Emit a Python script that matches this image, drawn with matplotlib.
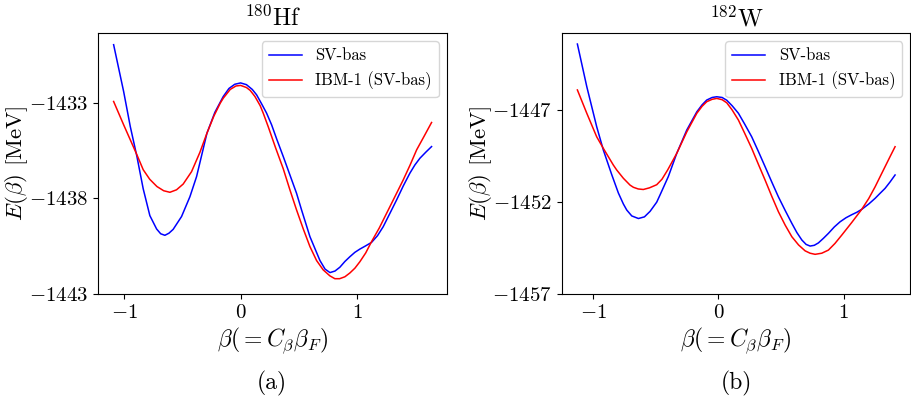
import numpy as np
import matplotlib
matplotlib.use("Agg")
import matplotlib.pyplot as plt

plt.rcParams['font.family'] = 'serif'
plt.rcParams['font.serif'] = ['cmr10']
plt.rcParams['mathtext.fontset'] = 'cm'
plt.rcParams['axes.formatter.use_mathtext'] = True
plt.rcParams['axes.unicode_minus'] = True

# 180Hf (panel a)
hf_beta_sv = [-1.090, -1.004, -0.947, -0.890, -0.836, -0.779, -0.721, -0.686, -0.650, -0.615,
              -0.579, -0.507, -0.435, -0.378, -0.289, -0.221, -0.149, -0.100, -0.050, 0.000,
              0.050, 0.100, 0.137, 0.180, 0.223, 0.266, 0.310, 0.366, 0.480, 0.523,
              0.595, 0.681, 0.725, 0.767, 0.810, 0.852, 0.895, 0.938, 0.981, 1.024,
              1.074, 1.124, 1.175, 1.224, 1.280, 1.339, 1.396, 1.453, 1.496, 1.539,
              1.590, 1.639]
hf_e_sv = [-1429.96, -1432.41, -1434.24, -1435.81, -1437.50, -1438.90, -1439.60, -1439.85, -1439.93, -1439.82,
           -1439.62, -1438.95, -1437.91, -1436.86, -1434.59, -1433.50, -1432.67, -1432.25, -1432.03, -1431.96,
           -1432.05, -1432.30, -1432.58, -1433.05, -1433.54, -1434.15, -1434.90, -1435.81, -1437.73, -1438.60,
           -1440.00, -1441.25, -1441.70, -1441.88, -1441.80, -1441.60, -1441.30, -1441.05, -1440.82, -1440.65,
           -1440.48, -1440.30, -1439.95, -1439.48, -1438.80, -1438.08, -1437.35, -1436.68, -1436.25, -1435.90,
           -1435.58, -1435.29]
hf_beta_ibm = [-1.090, -1.004, -0.890, -0.836, -0.780, -0.718, -0.660, -0.607, -0.550, -0.493,
               -0.421, -0.350, -0.289, -0.230, -0.175, -0.149, -0.089, -0.040, 0.000, 0.050,
               0.082, 0.123, 0.168, 0.194, 0.237, 0.300, 0.366, 0.423, 0.480, 0.538,
               0.595, 0.652, 0.709, 0.766, 0.809, 0.850, 0.895, 0.938, 0.981, 1.024,
               1.074, 1.124, 1.190, 1.253, 1.325, 1.396, 1.455, 1.511, 1.575, 1.639]
hf_e_ibm = [-1432.93, -1434.15, -1435.72, -1436.50, -1437.00, -1437.38, -1437.60, -1437.68, -1437.55, -1437.25,
            -1436.60, -1435.60, -1434.59, -1433.70, -1433.02, -1432.76, -1432.30, -1432.12, -1432.09, -1432.20,
            -1432.35, -1432.67, -1433.15, -1433.54, -1434.25, -1435.35, -1436.45, -1437.55, -1438.60, -1439.60,
            -1440.52, -1441.25, -1441.74, -1442.05, -1442.20, -1442.20, -1442.10, -1441.90, -1441.65, -1441.31,
            -1440.85, -1440.26, -1439.55, -1438.78, -1437.90, -1437.03, -1436.25, -1435.46, -1434.75, -1434.03]

# 182W (panel b)
w_beta_sv = [-1.125, -1.050, -0.971, -0.918, -0.851, -0.798, -0.758, -0.731, -0.691, -0.638,
             -0.590, -0.545, -0.492, -0.465, -0.399, -0.332, -0.252, -0.172, -0.130, -0.093,
             -0.050, -0.013, 0.030, 0.067, 0.110, 0.160, 0.210, 0.266, 0.320, 0.373,
             0.426, 0.479, 0.533, 0.586, 0.626, 0.666, 0.700, 0.732, 0.765, 0.798,
             0.838, 0.878, 0.925, 0.971, 1.018, 1.065, 1.105, 1.144, 1.200, 1.251,
             1.290, 1.330, 1.370, 1.410]
w_e_sv = [-1443.39, -1445.71, -1447.89, -1449.16, -1450.50, -1451.50, -1452.10, -1452.43, -1452.75, -1452.89,
          -1452.80, -1452.50, -1452.00, -1451.60, -1450.60, -1449.34, -1448.07, -1447.08, -1446.70, -1446.44,
          -1446.30, -1446.26, -1446.30, -1446.45, -1446.75, -1447.16, -1447.75, -1448.44, -1449.25, -1450.07,
          -1450.90, -1451.71, -1452.45, -1453.15, -1453.65, -1454.06, -1454.30, -1454.39, -1454.35, -1454.22,
          -1453.97, -1453.70, -1453.35, -1453.07, -1452.85, -1452.68, -1452.55, -1452.39, -1452.10, -1451.79,
          -1451.52, -1451.25, -1450.90, -1450.52]
w_beta_ibm = [-1.125, -1.050, -0.971, -0.918, -0.838, -0.811, -0.758, -0.705, -0.678, -0.640,
              -0.599, -0.550, -0.492, -0.450, -0.405, -0.332, -0.252, -0.172, -0.130, -0.093,
              -0.050, -0.013, 0.030, 0.067, 0.110, 0.160, 0.210, 0.266, 0.320, 0.373,
              0.426, 0.479, 0.533, 0.586, 0.640, 0.692, 0.732, 0.772, 0.825, 0.878,
              0.930, 0.985, 1.065, 1.144, 1.200, 1.251, 1.290, 1.330, 1.370, 1.410]
w_e_ibm = [-1445.89, -1447.16, -1448.44, -1449.07, -1449.98, -1450.25, -1450.70, -1451.07, -1451.19, -1451.28,
           -1451.31, -1451.22, -1451.05, -1450.75, -1450.25, -1449.34, -1448.17, -1447.16, -1446.78, -1446.53,
           -1446.40, -1446.35, -1446.42, -1446.59, -1446.98, -1447.53, -1448.25, -1449.07, -1449.95, -1450.80,
           -1451.68, -1452.52, -1453.25, -1453.88, -1454.33, -1454.65, -1454.78, -1454.84, -1454.78, -1454.61,
           -1454.25, -1453.79, -1453.10, -1452.39, -1451.80, -1451.16, -1450.62, -1450.07, -1449.52, -1448.98]

panels = [
    dict(title=r'$^{180}$Hf', sub='(a)', bs=hf_beta_sv, es=hf_e_sv, bi=hf_beta_ibm, ei=hf_e_ibm,
         yticks=[-1433, -1438, -1443], ylim=(-1443, -1429.35), xlim=(-1.227, 1.771),
         rect=[0.1072, 0.2576, 0.3834, 0.659]),
    dict(title=r'$^{182}$W', sub='(b)', bs=w_beta_sv, es=w_e_sv, bi=w_beta_ibm, ei=w_e_ibm,
         yticks=[-1447, -1452, -1457], ylim=(-1457, -1442.79), xlim=(-1.25, 1.532),
         rect=[0.6166, 0.2576, 0.3827, 0.659]),
]

fig = plt.figure(figsize=(9.11, 3.96), dpi=100)

for p in panels:
    ax = fig.add_axes(p['rect'])
    ax.plot(p['bs'], p['es'], color='blue', lw=1.1, label='SV-bas')
    ax.plot(p['bi'], p['ei'], color='red', lw=1.1, label='IBM-1 (SV-bas)')
    ax.set_xlim(*p['xlim'])
    ax.set_ylim(*p['ylim'])
    ax.set_xticks([-1, 0, 1])
    ax.set_yticks(p['yticks'])
    ax.tick_params(labelsize=15)
    ax.set_xlabel(r'$\beta(=C_\beta\beta_F)$', fontsize=17, labelpad=3)
    ax.set_ylabel(r'$E(\beta)$ [MeV]', fontsize=16.5)
    ax.yaxis.set_label_coords(-0.194, 0.5)
    ax.set_title(p['title'], fontsize=17.5, pad=5)
    ax.legend(loc='upper right', fontsize=12)
    cx = p['rect'][0] + p['rect'][2] / 2
    fig.text(cx, 1 - 383 / 396, p['sub'], ha='center', va='center', fontsize=17)

fig.savefig('out.png', dpi=100)
